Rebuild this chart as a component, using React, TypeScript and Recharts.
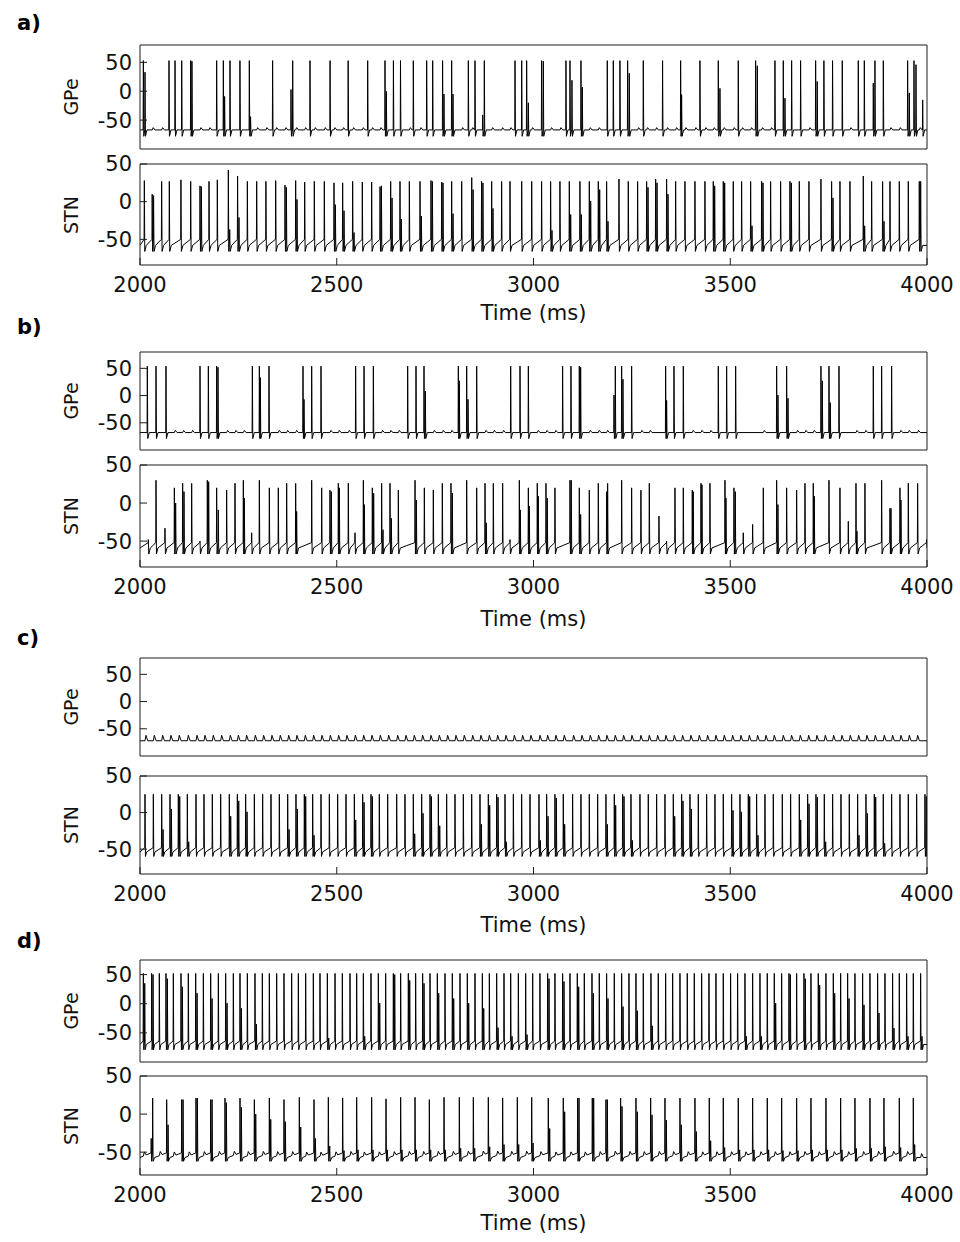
import React from 'react';
import { LineChart, Line, XAxis, YAxis } from 'recharts';

// Membrane potential traces (mV) of a GPe cell and an STN cell, 2000-4000 ms,
// for four network conditions a) - d). Each spike is [time ms, peak mV].

type Spike = [number, number];
type Shape = { pre: number; trough: number; recover: number; recoverAt: number };
type Pt = { t: number; v: number; quiet: boolean };

const T0 = 2000;
const T1 = 4000;
const TIME_TICKS = [2000, 2500, 3000, 3500, 4000];
const VOLT_TICKS = [-50, 0, 50];

// ---------- a) ----------
const A_GPE_SPIKES: Spike[] = [
  [2008.5, 53], [2012.7, 33], [2073.7, 53], [2089, 53], [2106, 53], [2128.8, 53], [2132, 52],
  [2194.8, 53], [2211.8, 53], [2215, -9], [2228.7, 53], [2254, 53], [2277.8, 53], [2281, -44],
  [2337, 53], [2383.7, 3], [2388, 53], [2432, 53], [2483, 53], [2529, 53], [2578.6, 53],
  [2622.6, 53], [2626, 0], [2644, 53], [2662, 53], [2694.6, 53], [2728.5, 53], [2743.8, 53],
  [2769, 53], [2772.5, -5], [2792, 53], [2795.4, -5], [2834.4, 53], [2851.3, 53], [2870.8, -41],
  [2875, 53], [2953, 53], [2970, 53], [2982.6, 53], [2986.9, -20], [3020.6, 53], [3024.9, 52],
  [3082.5, 53], [3092.7, 53], [3097.7, 19], [3120.6, 53], [3124, 7], [3187.5, 53], [3202.8, 53],
  [3219.7, 53], [3239.2, 53], [3243.4, 31], [3279, 53], [3328, 53], [3373.9, 53], [3376.4, -6],
  [3423, 53], [3469.6, 53], [3473.8, 5], [3520.4, 53], [3564.5, 53], [3568.7, 44], [3613.6, 53],
  [3634.8, 53], [3639, -12], [3656, 53], [3678.8, 53], [3717, 53], [3721, 17], [3738, 53],
  [3760, 53], [3784.7, 53], [3825.4, 53], [3840.7, 53], [3863.5, 14], [3867.7, 53], [3889, 53],
  [3950.8, 53], [3955, -3], [3966.9, 53], [3972, 46], [3989, -15],
];

const A_STN_SPIKES: Spike[] = [
  [2011, 28], [2031, 10], [2034.5, 8], [2055, 27], [2074.5, 27], [2104, 29], [2128.8, 27],
  [2152.5, 21], [2156, 20], [2175.4, 27], [2196.5, 29], [2224.5, 42], [2228, -37], [2248, 34],
  [2251.5, -21], [2272.8, 27], [2296.5, 27], [2320, 27], [2344.8, 28], [2368.5, 22], [2372, 19],
  [2395.6, 28], [2399, 3], [2418.5, 26], [2443, 27], [2468.4, 27], [2493, 25], [2496.5, -4],
  [2515, 25], [2518.5, -12], [2540.4, 27], [2544, -41], [2565, 26], [2588.7, 26], [2610, 20],
  [2613.5, 21], [2637, 27], [2640.5, 5], [2660.7, 27], [2664, -23], [2684.5, 27], [2711.6, 27],
  [2715, -19], [2739.5, 28], [2743, 27], [2766.6, 26], [2770, 25], [2792, 27], [2795.5, -16],
  [2817.5, 27], [2843, 32], [2846.5, 16], [2868, 27], [2871.5, 25], [2893.7, 27], [2897, -9],
  [2919, 27], [2940.3, 27], [2970, 27], [2995.4, 27], [3020.6, 27], [3043.5, 27], [3047, -38],
  [3067.2, 27], [3091, 27], [3094.5, -17], [3118, 27], [3121.5, -17], [3141.8, 27], [3145.3, 1],
  [3164.7, 27], [3168.2, 16], [3185.8, 27], [3189.3, -26], [3217.2, 30], [3240.9, 27],
  [3264.6, 27], [3287.5, 27], [3291, 19], [3310.4, 30], [3313.9, 25], [3338.3, 30], [3341.8, 10],
  [3361.2, 27], [3384.9, 27], [3410.3, 27], [3435.7, 27], [3456.9, 27], [3460.4, 21],
  [3482.3, 27], [3485.8, 25], [3507.7, 27], [3528.9, 27], [3551.8, 27], [3555.3, -32],
  [3579.7, 27], [3583.2, 25], [3602.6, 27], [3628, 27], [3651.7, 27], [3655.2, 25], [3675.5, 27],
  [3700, 27], [3730.5, 30], [3757.6, 27], [3761.1, 5], [3778.8, 27], [3804.2, 27], [3838.1, 34],
  [3841.6, -32], [3859.3, 27], [3887.2, 27], [3890.7, -26], [3905.9, 27], [3929.6, 27],
  [3952.5, 27], [3980.4, 27], [3983.9, 27],
];

// ---------- b) ----------
const B_GPE_SPIKES: Spike[] = [
  [2018.6, 54], [2040.7, 54], [2066, 54], [2152.5, 54], [2173.7, 54], [2194.8, 54], [2198.2, 52],
  [2285.5, 54], [2303.3, 54], [2305.8, 33], [2327.8, 54], [2414.2, 54], [2416.8, -7], [2436.3, 54],
  [2460, 54], [2548, 54], [2569.3, 54], [2593, 54], [2680.2, 54], [2701.4, 54], [2721.7, 54],
  [2725.1, 8], [2809, 54], [2811.5, 27], [2830.2, 54], [2833.6, -7], [2855.6, 54], [2942, 54],
  [2965.7, 54], [2986.9, 54], [3074, 54], [3095.2, 54], [3116.4, 54], [3119.8, 52], [3204.5, 1],
  [3207.9, 54], [3224, 54], [3227.3, 30], [3249.4, 54], [3335.8, 54], [3338.3, -9], [3357, 54],
  [3380.7, 54], [3469.6, 54], [3490.8, 54], [3513.7, 54], [3617.9, 54], [3621.2, 1], [3643.3, 54],
  [3646.7, -5], [3730.5, 54], [3733.9, 27], [3750.9, 54], [3754.2, -13], [3776.3, 54],
  [3863.5, 54], [3884.7, 54], [3910.1, 54],
];

const B_STN_SPIKES: Spike[] = [
  [2021.2, -48], [2040.7, 30], [2063.5, -33], [2087.3, 20], [2090.6, 0], [2108.4, 26],
  [2111.8, 15], [2131.3, 26], [2152.5, -50], [2171.1, 30], [2174.5, 28], [2194.8, 20], [2199, -9],
  [2220.2, 17], [2241.4, 26], [2262.6, 30], [2265.1, 6.5], [2283.8, -39], [2303.3, 30],
  [2328.7, 20], [2351.5, 20], [2372.7, 26], [2395.6, 26], [2398.1, -11], [2436.3, 30],
  [2461.7, 20], [2482.8, 17], [2486.2, 15], [2504, 26], [2506.6, 20], [2529.4, 26], [2546.4, -39],
  [2567.6, 30], [2570.1, -2], [2590.4, 20], [2593.8, 13], [2614.1, 26], [2617.5, -35],
  [2635.3, 26], [2638.7, -20], [2656.5, 17], [2698.9, 30], [2702.3, 4], [2722.6, 20],
  [2745.4, 17], [2768.3, 26], [2790.3, 26], [2793.7, 13], [2830.2, 30], [2855.6, 20],
  [2876.8, 26], [2880.1, -26], [2897.9, 26], [2921.6, 26], [2940.3, -48], [2964, 30],
  [2966.5, -9], [2986.9, 20], [2989.4, -4], [3009.6, 26], [3012.2, 9], [3031.7, 26], [3035, 6.5],
  [3054.5, 20], [3092.7, 30], [3096, 30], [3116.4, 20], [3119.8, -15], [3141.8, 17], [3164.7, 26],
  [3185.8, 15], [3188.4, 26], [3224, 30], [3249.4, 20], [3273, 17], [3294.3, 26], [3318.8, -17],
  [3338.3, -50], [3359.5, 20], [3380.7, 20], [3403.5, 17], [3406, 15], [3425.6, 26], [3428.1, 24],
  [3448.4, 26], [3486.6, 30], [3489.1, 6.5], [3509.4, 20], [3512.8, 15], [3533.1, -39],
  [3556.9, -28], [3584, 20], [3617.9, 30], [3621.2, -2], [3643.3, 20], [3668.7, 17], [3689.9, 26],
  [3711, 26], [3713.6, 9], [3750.9, 30], [3778.8, 20], [3800, -24], [3819.5, 26], [3822, -37],
  [3842.3, 26], [3884.7, 30], [3905.9, -7], [3908.4, -7], [3931.3, 20], [3933.8, 4],
  [3952.5, 26], [3976.2, 26], [3999, -48],
];

// ---------- c) ----------
const C_GPE_SPIKES: Spike[] = [];

const C_STN_SPIKES: Spike[] = [
  [2012.7, 25], [2033.9, 25], [2055.1, 25], [2058.6, -23], [2076.2, 25], [2079.7, 5],
  [2097.4, 25], [2100.9, 22], [2120.3, 25], [2123.8, -40], [2142.3, 25], [2162.6, 25],
  [2183.8, 25], [2205, 25], [2227, 25], [2230.5, -5], [2247.4, 25], [2250.9, 16], [2268.5, 25],
  [2272, 1], [2290.6, 25], [2311.7, 25], [2332.9, 25], [2354.1, 25], [2375.3, 25], [2378.8, -23],
  [2396.4, 25], [2399.9, 5], [2417.6, 25], [2421.1, 22], [2438.8, 25], [2442.3, -31], [2460, 25],
  [2481.2, 25], [2502.3, 25], [2523.5, 25], [2544.7, 25], [2548.2, -10], [2565.9, 25],
  [2569.4, 14], [2587, 25], [2590.5, 22], [2608.2, 25], [2629.4, 25], [2652.3, 25], [2673.4, 25],
  [2694.6, 25], [2698.1, -29], [2715.8, 25], [2719.3, -1], [2737, 25], [2740.5, 22], [2758.2, 25],
  [2761.7, -18], [2779.3, 25], [2800.5, 25], [2821.7, 25], [2842.9, 25], [2864, 25], [2867.5, -16],
  [2885.2, 25], [2888.7, 10], [2906.4, 25], [2909.9, 21], [2927.6, 25], [2931.1, -40],
  [2948.8, 25], [2969.9, 25], [2991.1, 25], [3013.9, 25], [3017.4, -38], [3033.4, 25],
  [3036.9, -5], [3054.5, 25], [3058, 20], [3075.7, 25], [3079.2, -16], [3099.4, 25], [3120.6, 25],
  [3141.8, 25], [3163, 25], [3184.1, 25], [3187.6, -16], [3205.3, 25], [3208.8, 10], [3226.5, 25],
  [3230, 22], [3247.7, 25], [3251.2, -38], [3270.5, 25], [3291.7, 25], [3312.9, 25], [3334.1, 25],
  [3355.3, 25], [3358.8, -5], [3376.4, 25], [3379.9, 16], [3397.6, 25], [3401.1, 5], [3418.8, 25],
  [3440, 25], [3461.1, 25], [3482.3, 25], [3503.5, 25], [3507, 3], [3524.7, 25], [3528.2, 1],
  [3545.9, 25], [3549.4, 22], [3567, 25], [3570.5, -31], [3588.2, 25], [3609.4, 25], [3632.3, 25],
  [3653.4, 25], [3675.5, 25], [3679, -10], [3696.7, 25], [3700.2, 12], [3717.8, 25], [3721.3, 21],
  [3739, 25], [3742.5, -40], [3760.2, 25], [3781.4, 25], [3802.5, 25], [3823.7, 25], [3827.2, -31],
  [3844.9, 25], [3848.4, -1], [3866.1, 25], [3869.6, 21], [3888.9, 25], [3892.4, -42], [3910.1, 25],
  [3931.3, 25], [3952.5, 25], [3973.7, 25], [3994.8, 25], [3998.3, 22],
];

// ---------- d) ----------
const D_GPE_SPIKES: Spike[] = [
  [2008.5, 52], [2012, 35], [2029.6, 52], [2033.1, 50], [2049.1, 52], [2066, 52], [2069.5, 43],
  [2084.7, 52], [2104.2, 52], [2107.7, 29], [2122.8, 52], [2141.5, 52], [2145, 18], [2161, 52],
  [2179.6, 52], [2183.1, 9], [2199.1, 52], [2217.7, 52], [2221.2, 1], [2237.2, 52], [2254.1, 52],
  [2257.6, -8], [2272.8, 52], [2292.2, 52], [2295.7, -35], [2310.9, 52], [2328.7, 52], [2347.3, 52],
  [2365.9, 52], [2385.4, 52], [2402.4, 52], [2421, 52], [2440.5, 52], [2457.4, 52], [2476.1, 52],
  [2479.6, -59], [2495.6, 52], [2514.2, 52], [2533.7, 52], [2550.6, 52], [2567.6, 52], [2571.1, -56],
  [2587, 52], [2605.7, 52], [2609.2, 1], [2624.3, 52], [2643.8, 52], [2647.3, 50], [2662.4, 52],
  [2681.9, 52], [2685.4, 40], [2700.5, 52], [2718.3, 52], [2721.8, 35], [2737, 52], [2755.6, 52],
  [2759.1, 18], [2775.1, 52], [2793.7, 52], [2797.2, 9], [2813.2, 52], [2831.8, 52], [2835.3, 1],
  [2851.3, 52], [2870, 52], [2873.5, -8], [2887.8, 52], [2906.4, 52], [2909.9, -41], [2925, 52],
  [2942, 52], [2945.5, -56], [2961.5, 52], [2980.1, 52], [2983.6, -53], [2997.9, 52], [3016.4, 52],
  [3035.9, 52], [3039.4, 43], [3054.5, 52], [3074, 52], [3077.5, 38], [3092.7, 52], [3111.3, 52],
  [3114.8, 29], [3129.1, 52], [3148.6, 52], [3152.1, 18], [3167.2, 52], [3185.8, 52], [3189.3, 9],
  [3205.3, 52], [3224, 52], [3227.5, -5], [3242.6, 52], [3260.4, 52], [3263.9, -12], [3279, 52],
  [3298.5, 52], [3302, -38], [3317.1, 52], [3335.8, 52], [3353.6, 52], [3372.2, 52], [3390.8, 52],
  [3408.6, 52], [3427.3, 52], [3445.9, 52], [3463.7, 52], [3482.3, 52], [3500.9, 52], [3518.7, 52],
  [3537.4, 52], [3540.9, -56], [3556.9, 52], [3575.5, 52], [3579, -56], [3594.1, 52], [3611.9, 52],
  [3615.4, 1], [3630.6, 52], [3649.2, 52], [3652.7, 50], [3668.7, 52], [3687.3, 52], [3690.8, 43],
  [3705.1, 52], [3723.7, 52], [3727.2, 32], [3743.2, 52], [3761.9, 52], [3765.4, 18], [3780.5, 52],
  [3798.3, 52], [3801.8, 9], [3816.9, 52], [3836.4, 52], [3839.9, -2], [3855, 52], [3874.5, 52],
  [3878, -16], [3893.2, 52], [3912.6, 52], [3916.1, -42], [3929.6, 52], [3948.2, 52], [3951.7, -56],
  [3965.2, 52], [3983.8, 52], [3987.3, -56],
];

const D_STN_SPIKES: Spike[] = [
  [2028.5, -32], [2032.2, 21], [2067.8, 19], [2071.3, -14], [2105.9, 19], [2109.4, 19],
  [2142.3, 21], [2145.8, 21], [2179.6, 19], [2183.1, 19], [2216, 21], [2219.5, 15], [2254.1, 21],
  [2257.6, 9], [2290.6, 19], [2294.1, 0], [2328.7, 21], [2332.2, -7], [2365.9, 19], [2369.4, -10],
  [2404.9, 22], [2408.4, -17], [2442.2, 19], [2445.7, -32], [2478.6, 22], [2482.1, -42], [2515, 21],
  [2518.5, -48], [2550.6, 22], [2554.1, -47], [2588.7, 22], [2592.2, -47], [2625.2, 20],
  [2628.7, -47], [2662.4, 22], [2665.9, -47], [2698.9, 22], [2702.4, -47], [2735.3, 19],
  [2738.8, -47], [2772.6, 22], [2776.1, -47], [2811.5, 22], [2815, -45], [2847.1, 22], [2850.6, -45],
  [2885.2, 22], [2888.7, -43], [2921.6, 21], [2925.1, -40], [2958.9, 22], [2962.4, -40],
  [2995.4, 22], [2998.9, -38], [3037.6, 21], [3041.1, -19], [3075.7, 21], [3079.2, 3], [3112.1, 21],
  [3115.6, 21], [3149.4, 21], [3152.9, 21], [3184.1, 19], [3187.6, 19], [3221.4, 21], [3224.9, 10],
  [3260.4, 21], [3263.9, 3], [3297.7, 21], [3301.2, -1], [3334.1, 21], [3337.6, -8], [3372.2, 21],
  [3375.7, -14], [3410.3, 21], [3413.8, -23], [3446.7, 21], [3450.2, -35], [3482.3, 21],
  [3485.8, -44], [3520.4, 21], [3523.9, -47], [3556.9, 21], [3560.4, -47], [3594.1, 21],
  [3597.6, -47], [3630.6, 21], [3634.1, -48], [3668.7, 21], [3672.2, -48], [3705.1, 21],
  [3708.6, -47], [3743.2, 21], [3746.7, -47], [3780.5, 21], [3784, -47], [3816.9, 21], [3820.4, -45],
  [3855, 21], [3858.5, -45], [3890.6, 21], [3894.1, -43], [3929.6, 21], [3933.1, -44], [3965.2, 21],
  [3968.7, -40],
];

// Resting / after-hyperpolarisation levels (mV) of each trace
const A_GPE_SHAPE: Shape = { pre: -67, trough: -78, recover: -67, recoverAt: 5 };
const A_STN_SHAPE: Shape = { pre: -50, trough: -66, recover: -58, recoverAt: 5 };
const B_GPE_SHAPE: Shape = { pre: -68, trough: -79, recover: -68, recoverAt: 5 };
const B_STN_SHAPE: Shape = { pre: -52, trough: -67, recover: -59, recoverAt: 5 };
const C_GPE_SHAPE: Shape = { pre: -72, trough: -72, recover: -72, recoverAt: 5 };
const C_STN_SHAPE: Shape = { pre: -48, trough: -60, recover: -54, recoverAt: 4 };
const D_GPE_SHAPE: Shape = { pre: -64, trough: -79, recover: -70, recoverAt: 4 };
const D_STN_SHAPE: Shape = { pre: -51, trough: -62, recover: -57, recoverAt: 5 };

// Size (mV) of the synaptic deflection one cell receives per spike of the other
const A_GPE_PSP = 4;
const B_GPE_PSP = 4;
const C_GPE_PSP = 10;
const D_STN_PSP = 5;

const spikeTimes = (list: Spike[]) => list.filter(([, p]) => p > 0).map(([t]) => t);

function buildTrace(spikes: Spike[], shape: Shape, inputs: number[] = [], inputAmp = 0) {
  const sorted = [...spikes].sort((a, b) => a[0] - b[0]);
  const pts: Pt[] = [{ t: T0, v: shape.recover, quiet: true }];
  const push = (p: Pt) => {
    const last = pts[pts.length - 1];
    if (p.t > last.t && p.t <= T1) pts.push(p);
  };
  sorted.forEach(([t, peak], i) => {
    const next = i + 1 < sorted.length ? sorted[i + 1][0] : Infinity;
    push({ t: t - 0.6, v: shape.pre, quiet: true });
    push({ t, v: peak, quiet: false });
    push({ t: t + 1.1, v: shape.trough, quiet: false });
    if (t + shape.recoverAt < next - 1) push({ t: t + shape.recoverAt, v: shape.recover, quiet: true });
  });
  const lastPt = pts[pts.length - 1];
  if (lastPt.t < T1) pts.push({ t: T1, v: shape.recover, quiet: true });

  // small post-synaptic deflections in the quiet stretches between spikes
  const RISE = 2.5;
  const WIDTH = 7;
  [...inputs].sort((a, b) => a - b).forEach((tb) => {
    const end = tb + WIDTH;
    for (let k = 0; k < pts.length - 1; k++) {
      const a = pts[k];
      const b = pts[k + 1];
      if (a.t > tb) break;
      if (a.t < tb && b.t > end && a.quiet && b.quiet) {
        const lv = (x: number) => a.v + ((b.v - a.v) * (x - a.t)) / (b.t - a.t);
        pts.splice(
          k + 1,
          0,
          { t: tb, v: lv(tb), quiet: true },
          { t: tb + RISE, v: lv(tb + RISE) + inputAmp, quiet: true },
          { t: end, v: lv(end), quiet: true },
        );
        break;
      }
    }
  });
  return pts.map(({ t, v }) => ({ t, v }));
}

const A_GPE = buildTrace(A_GPE_SPIKES, A_GPE_SHAPE, spikeTimes(A_STN_SPIKES), A_GPE_PSP);
const A_STN = buildTrace(A_STN_SPIKES, A_STN_SHAPE);
const B_GPE = buildTrace(B_GPE_SPIKES, B_GPE_SHAPE, spikeTimes(B_STN_SPIKES), B_GPE_PSP);
const B_STN = buildTrace(B_STN_SPIKES, B_STN_SHAPE);
const C_GPE = buildTrace(C_GPE_SPIKES, C_GPE_SHAPE, spikeTimes(C_STN_SPIKES), C_GPE_PSP);
const C_STN = buildTrace(C_STN_SPIKES, C_STN_SHAPE);
const D_GPE = buildTrace(D_GPE_SPIKES, D_GPE_SHAPE);
const D_STN = buildTrace(D_STN_SPIKES, D_STN_SHAPE, spikeTimes(D_GPE_SPIKES), D_STN_PSP);

const FONT = '"DejaVu Sans", "Liberation Sans", sans-serif';
const AXIS_COLOR = '#1c1c1c';
const TICK_STYLE = { fontSize: 21, fontFamily: FONT, fill: '#111' };

type Panel = {
  tag: string;
  tagTop: number;
  timeY: number;
  gpe: { top: number; bottom: number; domain: [number, number]; data: { t: number; v: number }[] };
  stn: { top: number; bottom: number; domain: [number, number]; data: { t: number; v: number }[] };
};

const PANELS: Panel[] = [
  {
    tag: 'a)', tagTop: 11, timeY: 313,
    gpe: { top: 45, bottom: 149, domain: [-100, 80], data: A_GPE },
    stn: { top: 164, bottom: 265, domain: [-84, 50], data: A_STN },
  },
  {
    tag: 'b)', tagTop: 315, timeY: 619,
    gpe: { top: 352, bottom: 450, domain: [-100, 80], data: B_GPE },
    stn: { top: 465, bottom: 567, domain: [-84, 50], data: B_STN },
  },
  {
    tag: 'c)', tagTop: 626, timeY: 925,
    gpe: { top: 658, bottom: 756, domain: [-100, 80], data: C_GPE },
    stn: { top: 776, bottom: 874, domain: [-84, 50], data: C_STN },
  },
  {
    tag: 'd)', tagTop: 929, timeY: 1223,
    gpe: { top: 960, bottom: 1062, domain: [-100, 75], data: D_GPE },
    stn: { top: 1076, bottom: 1175, domain: [-80, 50], data: D_STN },
  },
];

const PLOT_LEFT = 140;
const PLOT_RIGHT = 927;
const EDGE = 1; // thickness reserved for the top / bottom / right box axes

function TracePlot({
  top, bottom, domain, data, showTime,
}: {
  top: number; bottom: number; domain: [number, number]; data: { t: number; v: number }[]; showTime: boolean;
}) {
  const mTop = 14;
  const mBot = showTime ? 36 : 4;
  const h = bottom - top + mTop + mBot;
  return (
    <div style={{ position: 'absolute', left: 0, top: top - mTop }}>
      <LineChart
        width={960}
        height={h}
        data={data}
        margin={{ top: mTop - EDGE, right: 960 - PLOT_RIGHT - EDGE, bottom: mBot - EDGE, left: 0 }}
      >
        <XAxis
          xAxisId="bottom" dataKey="t" type="number" domain={[T0, T1]} ticks={TIME_TICKS}
          allowDataOverflow height={EDGE} tickSize={-7} tickMargin={19} interval={0}
          stroke={AXIS_COLOR} tick={showTime ? TICK_STYLE : false}
        />
        <XAxis
          xAxisId="top" orientation="top" dataKey="t" type="number" domain={[T0, T1]} ticks={TIME_TICKS}
          allowDataOverflow height={EDGE} tickSize={-7} interval={0} stroke={AXIS_COLOR} tick={false}
        />
        <YAxis
          yAxisId="left" type="number" domain={domain} ticks={VOLT_TICKS} allowDataOverflow
          width={PLOT_LEFT} tickSize={-7} tickMargin={15} interval={0} stroke={AXIS_COLOR} tick={TICK_STYLE}
        />
        <YAxis
          yAxisId="right" orientation="right" type="number" domain={domain} ticks={VOLT_TICKS}
          allowDataOverflow width={EDGE} tickSize={-7} interval={0} stroke={AXIS_COLOR} tick={false}
        />
        <Line
          xAxisId="bottom" yAxisId="left" type="linear" dataKey="v" stroke="#000"
          strokeWidth={1} dot={false} isAnimationActive={false}
        />
      </LineChart>
    </div>
  );
}

function SideLabel({ text, centerY }: { text: string; centerY: number }) {
  return (
    <div
      style={{
        position: 'absolute', left: 71, top: centerY, transform: 'translate(-50%, -50%) rotate(-90deg)',
        fontFamily: FONT, fontSize: 19, lineHeight: '20px', color: '#111', whiteSpace: 'nowrap',
      }}
    >
      {text}
    </div>
  );
}

export default function App() {
  return (
    <div style={{ position: 'absolute', left: 0, top: 0, width: 960, height: 1242, background: '#fff', overflow: 'hidden' }}>
      {PANELS.map((p) => (
        <React.Fragment key={p.tag}>
          <div
            style={{
              position: 'absolute', left: 17, top: p.tagTop, fontFamily: FONT, fontWeight: 'bold',
              fontSize: 21, lineHeight: '24px', color: '#000',
            }}
          >
            {p.tag}
          </div>
          <TracePlot top={p.gpe.top} bottom={p.gpe.bottom} domain={p.gpe.domain} data={p.gpe.data} showTime={false} />
          <TracePlot top={p.stn.top} bottom={p.stn.bottom} domain={p.stn.domain} data={p.stn.data} showTime />
          <SideLabel text="GPe" centerY={(p.gpe.top + p.gpe.bottom) / 2} />
          <SideLabel text="STN" centerY={(p.stn.top + p.stn.bottom) / 2} />
          <div
            style={{
              position: 'absolute', left: PLOT_LEFT, width: PLOT_RIGHT - PLOT_LEFT, top: p.timeY - 12,
              textAlign: 'center', fontFamily: FONT, fontSize: 21, lineHeight: '24px', color: '#111',
            }}
          >
            Time (ms)
          </div>
        </React.Fragment>
      ))}
    </div>
  );
}
